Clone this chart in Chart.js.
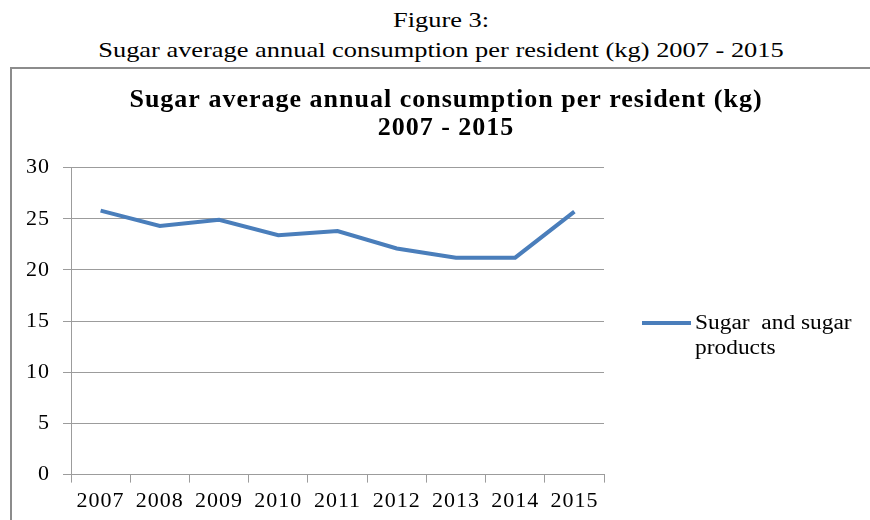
<!DOCTYPE html>
<html>
<head>
<meta charset="utf-8">
<script src="https://cdn.jsdelivr.net/npm/chart.js@4/dist/chart.umd.min.js"></script>
<style>
  html, body { margin: 0; padding: 0; background: #fff; }
  body { width: 870px; height: 520px; position: relative; overflow: hidden; font-family: 'Liberation Serif', 'Times New Roman', serif; }
  #fig-title { position: absolute; left: 6px; top: 5px; width: 870px; text-align: center; font-size: 22px; line-height: 30px; color: #000; transform: scaleX(1.2); transform-origin: 50% 0; }
  #frame { position: absolute; left: 10px; top: 67px; width: 900px; height: 500px; border: 2px solid #8c8c8c; box-sizing: border-box; }
  #chart-wrap { position: absolute; left: 11px; top: 68px; width: 870px; height: 452px; }
  #legend { position: absolute; left: 642px; top: 310px; font-size: 20px; line-height: 25px; color: #000; }
  #legend .swatch { position: absolute; left: 0; top: 11px; width: 49px; height: 4px; }
  #legend .txt { position: absolute; left: 53px; top: 0; width: 140px; white-space: pre-wrap; transform: scaleX(1.17); transform-origin: 0 0; }
</style>
</head>
<body>
<div id="fig-title">Figure 3:<br>Sugar average annual consumption per resident (kg) 2007 - 2015</div>
<div id="frame"></div>
<div id="chart-wrap"><canvas id="sugar-chart"></canvas></div>
<div id="legend"><span class="swatch"></span><span class="txt"></span></div>
<script>
const years = ['2007', '2008', '2009', '2010', '2011', '2012', '2013', '2014', '2015'];
const sugarKg = [25.8, 24.3, 24.9, 23.4, 23.8, 22.1, 21.2, 21.2, 25.7];
const seriesLabel = 'Sugar  and sugar products';
const chartTitle = ['Sugar average annual consumption per resident (kg)', '2007 - 2015'];

const lineColor = '#4a7ebb';
const gridColor = '#9c9c9c';
const serif = "'Liberation Serif', 'Times New Roman', serif";

// the source picture is a bit stretched sideways, so widen the canvas text a little
const widenText = {
    id: 'widenText',
    beforeDraw: function (chart) { chart.ctx.letterSpacing = '1px'; }
};

document.addEventListener('DOMContentLoaded', function () {
    const canvas = document.getElementById('sugar-chart');
    const chart = new Chart(canvas, {
        type: 'line',
        data: {
            labels: years,
            datasets: [{
                label: seriesLabel,
                data: sugarKg,
                borderColor: lineColor,
                backgroundColor: lineColor,
                borderWidth: 4,
                pointRadius: 0,
                tension: 0,
                yAxisID: 'y'
            }]
        },
        options: {
            responsive: true,
            maintainAspectRatio: false,
            animation: false,
            layout: { padding: { left: 0, right: 0, top: 0, bottom: 1 } },
            scales: {
                x: {
                    offset: true,
                    grid: {
                        offset: true,
                        drawOnChartArea: false,
                        color: gridColor,
                        tickLength: 8
                    },
                    border: { color: gridColor },
                    ticks: {
                        color: '#000',
                        padding: 5,
                        maxRotation: 0,
                        autoSkip: false,
                        font: { family: serif, size: 22 }
                    }
                },
                y: {
                    min: 0,
                    max: 30,
                    afterFit: function (scale) { scale.width = 60; },
                    grid: { color: gridColor, tickLength: 8 },
                    border: { color: gridColor },
                    ticks: {
                        stepSize: 5,
                        color: '#000',
                        padding: 13,
                        font: { family: serif, size: 22 }
                    }
                },
                // empty axis that only keeps room for the legend on the right
                legendSpace: {
                    type: 'linear',
                    position: 'right',
                    afterFit: function (scale) { scale.width = 277; },
                    grid: { display: false },
                    border: { display: false },
                    ticks: { display: false }
                }
            },
            plugins: {
                legend: { display: false },
                tooltip: { enabled: false },
                title: {
                    display: true,
                    text: chartTitle,
                    color: '#000',
                    font: { family: serif, size: 26, weight: 'bold', lineHeight: 1.05 },
                    padding: { top: 19, bottom: 26 }
                }
            }
        },
        plugins: [widenText]
    });

    const legend = document.getElementById('legend');
    legend.querySelector('.swatch').style.background = chart.data.datasets[0].borderColor;
    legend.querySelector('.txt').textContent = chart.data.datasets[0].label;
});
</script>
</body>
</html>
